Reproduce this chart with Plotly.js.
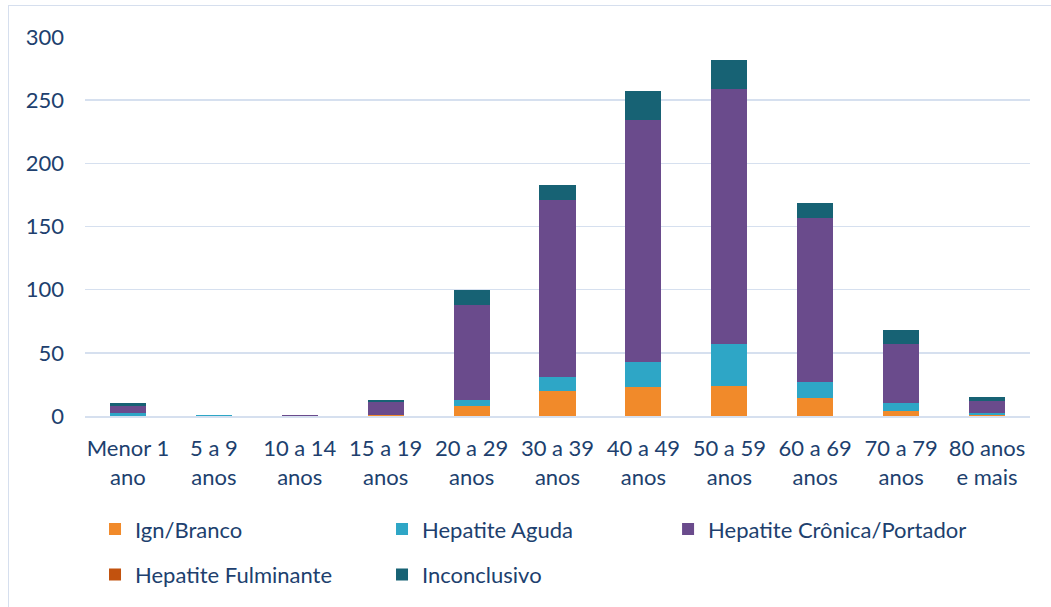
<!DOCTYPE html>
<html>
<head>
<meta charset="utf-8">
<script src="https://cdn.plot.ly/plotly-3.0.1.min.js"></script>
<style>
html,body{margin:0;padding:0;background:#fff;}
#chart{width:1051px;height:607px;position:absolute;left:0;top:0;}
#frame{position:absolute;left:8px;top:5px;width:1100px;height:700px;border:1px solid #d6dfee;pointer-events:none;}
</style>
</head>
<body>
<div id="chart"></div>
<div id="frame"></div>
<script>
const categories = ["Menor 1<br>ano","5 a 9<br>anos","10 a 14<br>anos","15 a 19<br>anos","20 a 29<br>anos","30 a 39<br>anos","40 a 49<br>anos","50 a 59<br>anos","60 a 69<br>anos","70 a 79<br>anos","80 anos<br>e mais"];
const ignBranco      = [0, 0, 0, 1, 8, 20, 23, 24, 14, 4, 1];
const hepAguda       = [2, 1, 0, 0, 5, 11, 20, 33, 13, 6, 1];
const hepCronica     = [6, 0, 1, 10, 75, 140, 191, 202, 130, 47, 10];
const hepFulminante  = [0, 0, 0, 0, 0, 0, 0, 0, 0, 0, 0];
const inconclusivo   = [2, 0, 0, 2, 12, 12, 23, 23, 12, 11, 3];
const yTicks = [0, 50, 100, 150, 200, 250, 300];

const series = [
  {name: "Ign/Branco", y: ignBranco, color: "#f18a2a", legend: "legend"},
  {name: "Hepatite Aguda", y: hepAguda, color: "#2ea6c6", legend: "legend2"},
  {name: "Hepatite Crônica/Portador", y: hepCronica, color: "#6a4b8c", legend: "legend3"},
  {name: "Hepatite Fulminante", y: hepFulminante, color: "#c2520e", legend: "legend4"},
  {name: "Inconclusivo", y: inconclusivo, color: "#176274", legend: "legend5"}
];

const data = series.map(s => ({
  type: "bar",
  name: s.name,
  x: categories,
  y: s.y,
  legend: s.legend,
  marker: {color: s.color, line: {width: 0}},
  hoverinfo: "name+y"
}));

const font = {family: "Lato, 'Open Sans', sans-serif", size: 22, color: "#203f6e"};

function leg(x, y) {
  return {orientation: "h", x: x, y: y, xanchor: "left", yanchor: "top",
          font: font, itemwidth: 30, bgcolor: "rgba(0,0,0,0)"};
}

const layout = {
  width: 1051, height: 607,
  margin: {l: 85, r: 21, t: 37, b: 190},
  paper_bgcolor: "#fff", plot_bgcolor: "#fff",
  barmode: "stack",
  bargap: 0.58,
  font: font,
  showlegend: true,
  xaxis: {
    type: "category",
    showgrid: false,
    showline: true, linecolor: "#d6e0ef", linewidth: 2,
    ticks: "", tickfont: font,
    ticklabelstandoff: 12,
    fixedrange: true
  },
  yaxis: {
    range: [0, 300],
    tickvals: yTicks,
    showgrid: true, gridcolor: "#d6e0ef", gridwidth: 1.5,
    zeroline: false, showline: false,
    ticks: "", ticklen: 0,
    ticklabelstandoff: 20,
    tickfont: font,
    fixedrange: true
  },
  legend:  leg(0.0106, -0.24),
  legend2: leg(0.3143, -0.24),
  legend3: leg(0.617, -0.24),
  legend4: leg(0.0106, -0.36),
  legend5: leg(0.3143, -0.36)
};

Plotly.newPlot("chart", data, layout, {displayModeBar: false, staticPlot: true});
</script>
</body>
</html>
